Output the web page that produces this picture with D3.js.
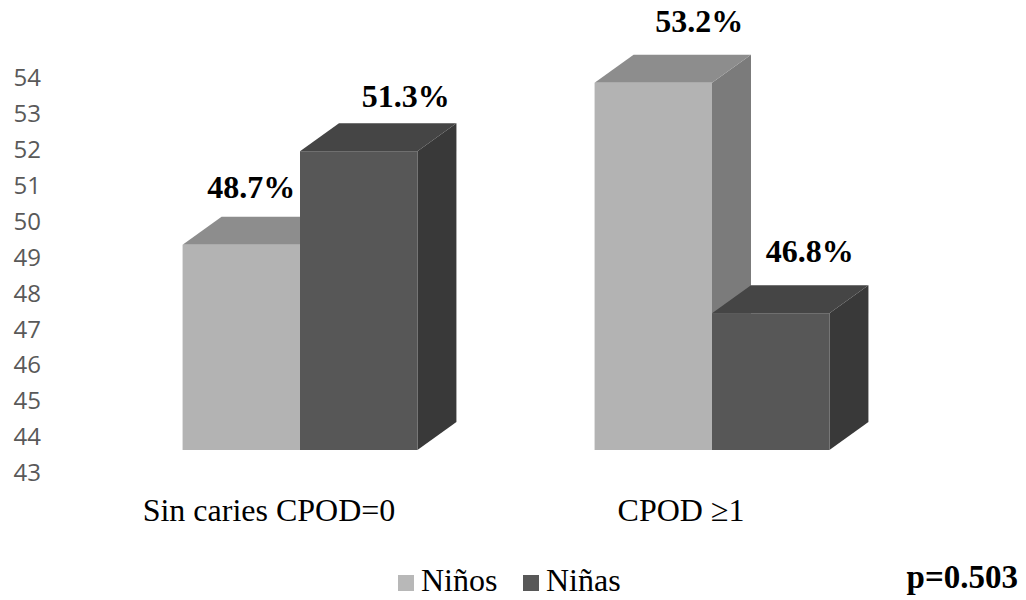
<!DOCTYPE html>
<html>
<head>
<meta charset="utf-8">
<script src="https://cdn.jsdelivr.net/npm/d3@7"></script>
<style>
  html, body { margin: 0; padding: 0; background: #fff; }
  svg { display: block; }
</style>
</head>
<body>
<svg id="chart" width="1026" height="600"></svg>
<script>
// Distribution of children by sex, per caries group (CPOD index)
const categories = ["Sin caries CPOD=0", "CPOD \u22651"];
const series = ["Niños", "Niñas"];
const ninos = [48.7, 53.2];
const ninas = [51.3, 46.8];
const yTicks = [43, 44, 45, 46, 47, 48, 49, 50, 51, 52, 53, 54];
const pValue = "p=0.503";

// Hand-placed offsets of each value label (per category, per series)
const labelNudgeX = [[10, 47], [46, 39]];
const labelNudgeY = [[-47, -44], [-51, -51]];

const svg = d3.select("#chart");
const W = 1026, H = 600;

// 3D extrusion of each bar
const depthX = 39, depthY = -28;

const colors = {
  "Niños": { front: "#b3b3b3", top: "#8d8d8d", side: "#7b7b7b", legend: "#b8b8b8" },
  "Niñas": { front: "#575757", top: "#454545", side: "#393939", legend: "#585858" }
};

const x0 = d3.scaleBand()
  .domain(categories)
  .range([94, 918])
  .paddingInner(0.43)
  .paddingOuter(0.215);

const x1 = d3.scaleBand()
  .domain(series)
  .range([0, x0.bandwidth()]);

const y = d3.scaleLinear().domain([43, 54]).range([450, 54]);
// Axis labels sit along the projected wall, a little lower than the front faces
const yAxisScale = d3.scaleLinear().domain([43, 54]).range([473, 78]);

// Value axis (labels only)
const yAxis = d3.axisLeft(yAxisScale)
  .tickValues(yTicks)
  .tickSize(0)
  .tickPadding(0)
  .tickFormat(d3.format("d"));

const gAxis = svg.append("g")
  .attr("transform", "translate(41,0)")
  .call(yAxis);
gAxis.select(".domain").remove();
gAxis.selectAll("text")
  .attr("fill", "#595959")
  .style("font-family", "'Open Sans', 'Liberation Sans', sans-serif")
  .style("font-size", "24px");

// Bars data
const rows = [];
categories.forEach((c, i) => {
  rows.push({ cat: c, ci: i, s: "Niños", si: 0, v: ninos[i] });
  rows.push({ cat: c, ci: i, s: "Niñas", si: 1, v: ninas[i] });
});

const base = 43;
const gBars = svg.append("g");

// draw left series first so the right bar overlaps its side face
[0, 1].forEach(si => {
  rows.filter(r => r.si === si).forEach(r => {
    const xl = x0(r.cat) + x1(r.s);
    const xr = xl + x1.bandwidth();
    const yt = y(r.v);
    const yb = y(base);
    const col = colors[r.s];
    const g = gBars.append("g");
    // side face
    g.append("path")
      .attr("d", `M${xr},${yt} L${xr + depthX},${yt + depthY} L${xr + depthX},${yb + depthY} L${xr},${yb} Z`)
      .attr("fill", col.side);
    // top face
    g.append("path")
      .attr("d", `M${xl},${yt} L${xl + depthX},${yt + depthY} L${xr + depthX},${yt + depthY} L${xr},${yt} Z`)
      .attr("fill", col.top);
    // front face
    g.append("rect")
      .attr("x", xl)
      .attr("y", yt)
      .attr("width", xr - xl)
      .attr("height", yb - yt)
      .attr("fill", col.front);
  });
});

// Value labels
const gLabels = svg.append("g");
rows.forEach(r => {
  const cx = x0(r.cat) + x1(r.s) + x1.bandwidth() / 2 + labelNudgeX[r.ci][r.si];
  const cy = y(r.v) + labelNudgeY[r.ci][r.si];
  gLabels.append("text")
    .attr("x", cx)
    .attr("y", cy)
    .attr("text-anchor", "middle")
    .attr("fill", "#000")
    .style("font-family", "'Liberation Serif', 'Times New Roman', serif")
    .style("font-weight", "bold")
    .style("font-size", "32px")
    .text(d3.format(".1f")(r.v) + "%");
});

// Category labels
svg.append("g").selectAll("text")
  .data(categories)
  .join("text")
  .attr("x", d => x0(d) + x0.bandwidth() / 2 - 31)
  .attr("y", 521)
  .attr("text-anchor", "middle")
  .attr("fill", "#000")
  .style("font-family", "'Liberation Serif', 'Times New Roman', serif")
  .style("font-size", "32px")
  .text(d => d);

// Legend
const legend = svg.append("g").attr("transform", "translate(398,575)");
const legendX = [0, 125];
series.forEach((s, i) => {
  const g = legend.append("g").attr("transform", `translate(${legendX[i]},0)`);
  g.append("rect")
    .attr("x", 0).attr("y", 0)
    .attr("width", 16).attr("height", 16)
    .attr("fill", colors[s].legend);
  g.append("text")
    .attr("x", 23)
    .attr("y", 16)
    .attr("fill", "#000")
    .style("font-family", "'Liberation Serif', 'Times New Roman', serif")
    .style("font-size", "32px")
    .text(s);
});

// Significance
svg.append("text")
  .attr("x", 1018)
  .attr("y", 588)
  .attr("text-anchor", "end")
  .attr("fill", "#000")
  .style("font-family", "'Liberation Serif', 'Times New Roman', serif")
  .style("font-weight", "bold")
  .style("font-size", "33px")
  .text(pValue);
</script>
</body>
</html>
